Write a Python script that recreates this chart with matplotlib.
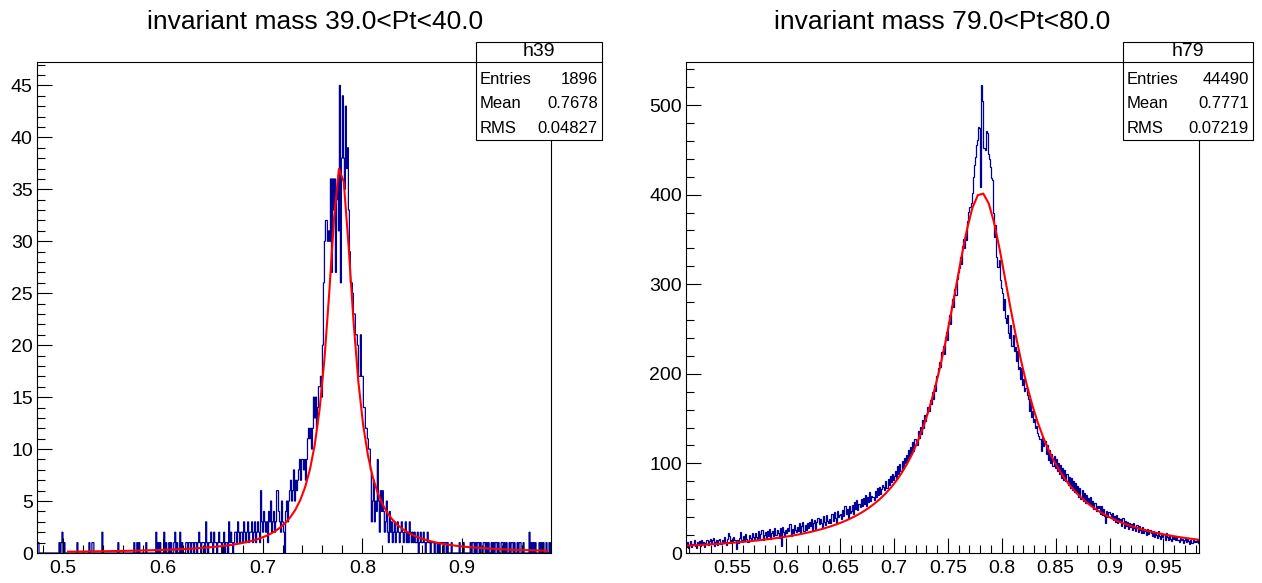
import numpy as np
import matplotlib
matplotlib.use("Agg")
import matplotlib.pyplot as plt
from matplotlib.patches import Rectangle
from matplotlib.lines import Line2D
from matplotlib.ticker import MultipleLocator, FuncFormatter

plt.rcParams['font.family'] = ['Liberation Sans', 'DejaVu Sans']

W, H = 1262, 583

# ---- data (bin width 0.001) ----
bin_width = 0.001

# h39: first bin starts at 0.470, one row per 0.01
h39_start = 0.470
h39_rows = [
    [0, 0, 0, 0, 1, 1, 0, 0, 0, 0],            # 0.47
    [0, 0, 0, 0, 0, 0, 0, 0, 0, 0],            # 0.48
    [0, 0, 0, 0, 0, 0, 1, 0, 1, 2],            # 0.49
    [0, 1, 0, 0, 0, 0, 0, 0, 0, 0],            # 0.50
    [0, 0, 0, 0, 1, 0, 0, 0, 0, 0],            # 0.51
    [0, 0, 0, 0, 0, 0, 1, 0, 0, 1],            # 0.52
    [1, 0, 0, 0, 0, 0, 0, 0, 0, 2],            # 0.53
    [0, 0, 0, 0, 0, 0, 0, 0, 0, 0],            # 0.54
    [0, 0, 0, 0, 0, 1, 0, 0, 0, 0],            # 0.55
    [0, 0, 0, 0, 0, 0, 0, 0, 0, 0],            # 0.56
    [0, 1, 0, 0, 1, 0, 1, 0, 0, 0],            # 0.57
    [0, 0, 0, 1, 0, 0, 0, 0, 0, 0],            # 0.58
    [0, 0, 0, 2, 0, 1, 0, 1, 0, 0],            # 0.59
    [0, 2, 0, 1, 0, 0, 1, 0, 1, 0],            # 0.60
    [0, 1, 2, 0, 1, 0, 0, 2, 0, 1],            # 0.61
    [0, 0, 0, 1, 1, 0, 1, 1, 0, 1],            # 0.62
    [1, 0, 1, 1, 0, 1, 2, 1, 0, 1],            # 0.63
    [1, 1, 0, 3, 1, 0, 1, 1, 2, 1],            # 0.64
    [0, 2, 1, 1, 0, 1, 2, 1, 1, 0],            # 0.65
    [1, 2, 0, 1, 1, 0, 3, 1, 2, 1],            # 0.66
    [0, 1, 2, 2, 1, 3, 2, 1, 2, 2],            # 0.67
    [1, 3, 2, 1, 2, 3, 1, 2, 2, 3],            # 0.68
    [1, 2, 3, 1, 2, 3, 2, 1, 6, 3],            # 0.69
    [2, 4, 3, 2, 3, 1, 4, 3, 5, 2],            # 0.70
    [3, 4, 2, 3, 6, 6, 4, 3, 2, 5],            # 0.71
    [3, 2, 0, 4, 5, 3, 5, 6, 7, 5],            # 0.72
    [6, 8, 5, 7, 6, 7, 8, 9, 7, 9],            # 0.73
    [9, 8, 9, 7, 9, 11, 12, 11, 12, 10],       # 0.74
    [12, 15, 13, 15, 12, 14, 16, 16, 17, 15],  # 0.75
    [20, 26, 30, 32, 32, 30, 31, 30, 36, 27],  # 0.76
    [36, 33, 36, 27, 34, 36, 31, 45, 26, 38],  # 0.77
    [44, 38, 35, 43, 37, 39, 33, 29, 26, 26],  # 0.78
    [25, 23, 23, 21, 21, 20, 17, 17, 21, 17],  # 0.79
    [17, 14, 14, 12, 12, 11, 10, 10, 8, 3],    # 0.80
    [5, 7, 3, 5, 4, 9, 5, 2, 6, 4],            # 0.81
    [6, 4, 2, 3, 5, 2, 1, 4, 2, 3],            # 0.82
    [1, 2, 3, 1, 2, 3, 2, 1, 2, 3],            # 0.83
    [2, 1, 2, 3, 1, 2, 1, 3, 2, 1],            # 0.84
    [2, 1, 2, 1, 1, 2, 0, 1, 2, 1],            # 0.85
    [1, 2, 1, 0, 1, 2, 1, 1, 0, 1],            # 0.86
    [1, 1, 0, 1, 1, 0, 1, 0, 1, 1],            # 0.87
    [1, 0, 1, 1, 0, 1, 0, 0, 0, 1],            # 0.88
    [0, 0, 0, 0, 0, 0, 0, 1, 0, 0],            # 0.89
    [0, 1, 0, 0, 0, 0, 0, 0, 1, 0],            # 0.90
    [1, 1, 0, 1, 0, 1, 1, 0, 1, 0],            # 0.91
    [0, 1, 1, 0, 1, 0, 1, 0, 0, 1],            # 0.92
    [0, 1, 0, 1, 1, 0, 1, 0, 0, 1],            # 0.93
    [1, 0, 1, 0, 1, 0, 0, 1, 0, 1],            # 0.94
    [1, 0, 1, 0, 0, 1, 0, 1, 1, 0],            # 0.95
    [0, 1, 0, 0, 0, 0, 0, 2, 0, 1],            # 0.96
    [0, 1, 0, 1, 0, 0, 0, 1, 0, 1],            # 0.97
    [0, 1, 0, 0, 1, 0, 0, 1, 0, 1],            # 0.98
]

# h79: first bin starts at 0.500
h79_start = 0.500
h79_rows = [
    [5, 9, 6, 11, 8, 4, 10, 7, 12, 6],                     # 0.50
    [9, 13, 7, 10, 14, 8, 6, 12, 9, 13],                   # 0.51
    [8, 15, 10, 12, 7, 11, 14, 9, 13, 16],                 # 0.52
    [11, 14, 17, 8, 12, 15, 9, 14, 16, 10],                # 0.53
    [15, 11, 18, 12, 9, 16, 22, 19, 11, 14],               # 0.54
    [13, 18, 14, 4, 15, 11, 17, 23, 14, 12],               # 0.55
    [19, 13, 21, 16, 12, 20, 17, 14, 22, 18],              # 0.56
    [16, 22, 18, 14, 24, 17, 21, 26, 15, 20],              # 0.57
    [23, 17, 24, 19, 27, 16, 22, 25, 19, 28],              # 0.58
    [20, 26, 22, 17, 28, 8, 29, 23, 19, 26],               # 0.59
    [22, 28, 24, 32, 19, 27, 22, 31, 26, 23],              # 0.60
    [29, 24, 33, 22, 30, 35, 25, 31, 26, 34],              # 0.61
    [28, 35, 30, 38, 25, 33, 37, 27, 35, 39],              # 0.62
    [32, 38, 34, 28, 41, 35, 31, 42, 36, 33],              # 0.63
    [38, 33, 43, 36, 46, 39, 34, 47, 40, 42],              # 0.64
    [43, 38, 48, 41, 52, 43, 49, 39, 53, 45],              # 0.65
    [47, 54, 44, 57, 49, 59, 48, 55, 51, 60],              # 0.66
    [52, 61, 55, 65, 53, 62, 57, 68, 58, 64],              # 0.67
    [63, 59, 69, 62, 72, 65, 74, 66, 71, 76],              # 0.68
    [74, 70, 80, 73, 83, 76, 86, 79, 88, 82],              # 0.69
    [86, 92, 83, 97, 88, 99, 91, 103, 95, 106],            # 0.70
    [100, 109, 103, 115, 106, 118, 110, 124, 114, 127],    # 0.71
    [125, 121, 136, 128, 141, 133, 148, 139, 154, 147],    # 0.72
    [155, 163, 158, 171, 166, 180, 172, 188, 181, 197],    # 0.73
    [199, 206, 213, 208, 224, 231, 222, 241, 247, 238],    # 0.74
    [258, 266, 256, 276, 283, 275, 295, 288, 306, 314],    # 0.75
    [318, 330, 322, 343, 351, 340, 356, 349, 370, 381],    # 0.76
    [386, 391, 402, 420, 433, 442, 455, 461, 476, 474],    # 0.77
    [408, 522, 505, 452, 450, 471, 469, 445, 440, 431],    # 0.78
    [418, 416, 379, 353, 366, 330, 319, 327, 305, 296],    # 0.79
    [290, 271, 284, 262, 257, 266, 245, 240, 254, 231],    # 0.80
    [243, 226, 230, 214, 225, 205, 208, 194, 206, 188],    # 0.81
    [194, 181, 184, 176, 172, 158, 170, 152, 158, 146],    # 0.82
    [150, 139, 142, 134, 131, 127, 114, 130, 119, 123],    # 0.83
    [125, 110, 120, 104, 115, 100, 111, 97, 108, 95],      # 0.84
    [105, 92, 101, 88, 98, 84, 95, 82, 93, 80],            # 0.85
    [88, 76, 85, 73, 84, 70, 80, 68, 78, 67],              # 0.86
    [75, 63, 72, 60, 70, 58, 67, 56, 65, 57],              # 0.87
    [61, 55, 63, 52, 58, 49, 56, 47, 53, 50],              # 0.88
    [52, 44, 53, 42, 49, 41, 33, 47, 40, 46],              # 0.89
    [43, 40, 45, 37, 41, 35, 42, 34, 39, 36],              # 0.90
    [38, 30, 39, 28, 36, 30, 35, 27, 34, 29],              # 0.91
    [32, 26, 33, 28, 24, 31, 23, 30, 26, 22],              # 0.92
    [29, 22, 27, 24, 20, 27, 21, 26, 22, 19],              # 0.93
    [25, 18, 23, 20, 17, 24, 19, 16, 22, 18],              # 0.94
    [21, 15, 22, 18, 14, 20, 16, 13, 19, 16],              # 0.95
    [19, 14, 18, 15, 12, 17, 14, 16, 11, 15],              # 0.96
    [16, 12, 17, 13, 10, 15, 11, 14, 12, 13],              # 0.97
    [12, 15, 11, 9, 14, 10, 15, 12, 17, 14],               # 0.98
]

titles = ["invariant mass 39.0<Pt<40.0", "invariant mass 79.0<Pt<80.0"]
hist_names = ["h39", "h79"]
stat_entries = ["1896", "44490"]
stat_means = ["0.7678", "0.7771"]
stat_rms = ["0.04827", "0.07219"]

# Breit-Wigner fit: (peak height, mass, width), and the range it is drawn on
fit39 = (37.3, 0.778, 0.032)
fit79 = (402.0, 0.781, 0.079)
fit39_range = (0.505, 0.985)
fit79_range = (0.50, 1.00)

HIST_BLUE = '#000099'


def breit_wigner(x, amp, mass, width):
    return amp / (1.0 + ((x - mass) / (width / 2.0)) ** 2)


def fx(x):
    return x / W


def fy(y):
    return 1 - y / H


fig = plt.figure(figsize=(W / 100, H / 100), dpi=100)

# pixel frames: (left, right) ; top 62, bottom 553
frames = [(37, 551), (686, 1199)]
xlims = [(0.474, 0.989), (0.507, 0.983)]
ylims = [(0, 47.25), (0, 548)]
xmaj = [0.1, 0.05]
xmin = [0.02, 0.01]
ymaj = [5, 100]
ymin = [1, 20]
title_x = [315, 942]
boxes = [(476, 602), (1123, 1253)]

panels = [(h39_start, h39_rows, fit39, fit39_range),
          (h79_start, h79_rows, fit79, fit79_range)]

for i, (start, rows, fit, frange) in enumerate(panels):
    x0, x1 = frames[i]
    ax = fig.add_axes([fx(x0), fy(553), (x1 - x0) / W, (553 - 62) / H])
    counts = np.concatenate([np.array(r, dtype=float) for r in rows])
    edges = start + bin_width * np.arange(len(counts) + 1)
    ax.stairs(counts, edges, color=HIST_BLUE, linewidth=0.9, baseline=0)

    xf = np.linspace(frange[0], frange[1], 100)
    ax.plot(xf, breit_wigner(xf, *fit), color='#ff0000', linewidth=1.5)

    ax.set_xlim(*xlims[i])
    ax.set_ylim(*ylims[i])
    ax.xaxis.set_major_locator(MultipleLocator(xmaj[i]))
    ax.xaxis.set_minor_locator(MultipleLocator(xmin[i]))
    ax.yaxis.set_major_locator(MultipleLocator(ymaj[i]))
    ax.yaxis.set_minor_locator(MultipleLocator(ymin[i]))
    fmt = FuncFormatter(lambda v, p: f"{v:g}")
    ax.xaxis.set_major_formatter(fmt)
    ax.yaxis.set_major_formatter(fmt)
    ax.tick_params(which='both', direction='in', top=False, right=False,
                   width=0.8, labelsize=14, colors='black')
    ax.tick_params(which='major', length=11)
    ax.tick_params(which='minor', length=5.5)
    ax.tick_params(axis='x', pad=5)
    ax.tick_params(axis='y', pad=3)
    for s in ax.spines.values():
        s.set_linewidth(0.8)

    fig.text(fx(title_x[i]), fy(22), titles[i], ha='center', va='center',
             fontsize=19)

    # stat box
    b0, b1 = boxes[i]
    fig.add_artist(Rectangle((fx(b0 + 1), fy(141)), (b1 - b0) / W, 98 / H,
                             transform=fig.transFigure, facecolor='black',
                             edgecolor='none', zorder=9))
    fig.add_artist(Rectangle((fx(b0), fy(140)), (b1 - b0) / W, 98 / H,
                             transform=fig.transFigure, facecolor='white',
                             edgecolor='black', linewidth=0.8, zorder=10))
    fig.add_artist(Line2D([fx(b0), fx(b1)], [fy(62), fy(62)],
                          transform=fig.transFigure, color='black',
                          linewidth=0.8, zorder=11))
    fig.text(fx((b0 + b1) / 2), fy(52), hist_names[i], ha='center',
             va='center', fontsize=14, zorder=12)
    stat_rows = [("Entries", stat_entries[i]), ("Mean", stat_means[i]),
                 ("RMS", stat_rms[i])]
    for k, (lab, val) in enumerate(stat_rows):
        yy = 79 + 24.5 * k
        fig.text(fx(b0 + 4), fy(yy), lab, ha='left', va='center',
                 fontsize=12, zorder=12)
        fig.text(fx(b1 - 4), fy(yy), val, ha='right', va='center',
                 fontsize=12, zorder=12)

fig.savefig('out.png', dpi=100, facecolor='white')
